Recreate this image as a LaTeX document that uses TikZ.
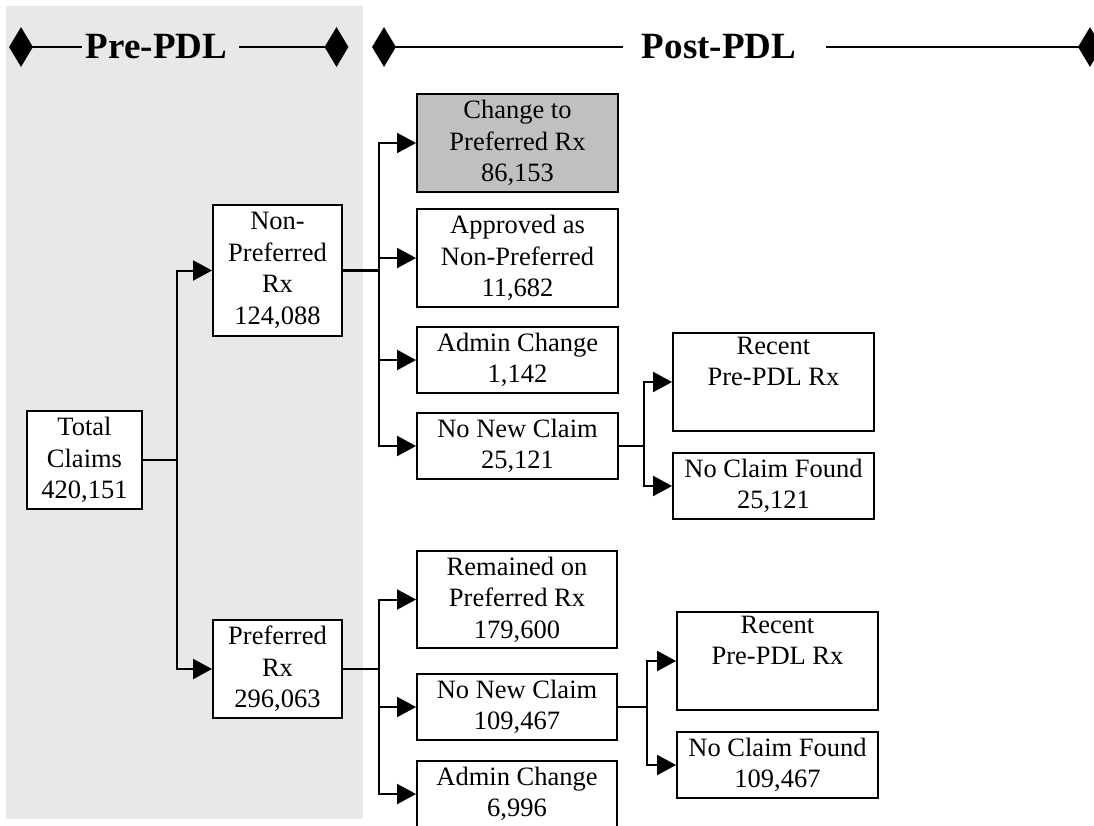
\documentclass[tikz,border=0pt]{standalone}
\usepackage{fontspec}
\setmainfont{Liberation Serif}
\usetikzlibrary{arrows.meta,shapes.geometric}
\definecolor{bgpre}{RGB}{232,232,232}
\definecolor{boxgray}{RGB}{192,192,192}
\tikzset{
  box/.style={draw=black, line width=1.9pt, fill=white, inner sep=0pt, align=center,
    font=\fontsize{26.5}{31.5}\selectfont},
  conn/.style={line width=2.3pt},
  arr/.style={line width=2pt, -{Triangle[length=19pt,width=20pt]}},
  dia/.style={diamond, fill=black, draw=none, inner sep=0pt, minimum width=24pt, minimum height=40pt},
  ttl/.style={font=\fontsize{37}{40}\selectfont\bfseries, inner sep=0pt},
  hdr/.style={line width=2.8pt}
}
\begin{document}
\begin{tikzpicture}[x=1pt,y=-1pt]
\useasboundingbox (0,0) rectangle (1094,825);
\clip (0,0) rectangle (1094,825);
\fill[bgpre] (6,6) rectangle (363,819);

% header
\node[dia] (d1) at (21,47) {};
\node[dia] (d2) at (336.5,47) {};
\node[dia] (d3) at (384,47) {};
\node[dia] (d4) at (1090,47) {};
\node[ttl] (pre) at (156.5,47) {Pre-PDL};
\node[ttl] (post) at (719,47) {Post-PDL};
\coordinate (p1) at (82,47);
\coordinate (p2) at (239,47);
\coordinate (q1) at (623,47);
\coordinate (q2) at (826,47);
\draw[hdr] (d1.center) -- (p1);
\draw[hdr] (p2) -- (d2.center);
\draw[hdr] (d3.center) -- (q1);
\draw[hdr] (q2) -- (d4.center);

% boxes
\node[box, minimum width=115pt, minimum height=98pt] (total) at (84.5,460) {Total\\Claims\\420,151};
\node[box, minimum width=129pt, minimum height=131pt] (nonpref) at (277.5,270.5) {Non-\\Preferred\\Rx\\124,088};
\node[box, minimum width=129pt, minimum height=98pt] (pref) at (277.5,669) {Preferred\\Rx\\296,063};

\node[box, fill=boxgray, minimum width=201pt, minimum height=98pt] (change) at (517.5,143) {Change to\\Preferred Rx\\86,153};
\node[box, minimum width=201pt, minimum height=98pt] (approved) at (517.5,258) {Approved as\\Non-Preferred\\11,682};
\node[box, minimum width=201pt, minimum height=66pt] (admin1) at (517.5,360) {Admin Change\\1,142};
\node[box, minimum width=201pt, minimum height=66pt] (nnc1) at (517.5,446) {No New Claim\\25,121};
\node[box, minimum width=201pt, minimum height=98pt] (recent1) at (773.5,382) {Recent\\Pre-PDL Rx\\\strut};
\node[box, minimum width=201pt, minimum height=66pt] (ncf1) at (773.5,486) {No Claim Found\\25,121};

\node[box, minimum width=200pt, minimum height=97pt] (remained) at (517,599.5) {Remained on\\Preferred Rx\\179,600};
\node[box, minimum width=200pt, minimum height=66pt] (nnc2) at (517,707) {No New Claim\\109,467};
\node[box, minimum width=200pt, minimum height=66pt] (admin2) at (517,794) {Admin Change\\6,996};
\node[box, minimum width=201pt, minimum height=98pt] (recent2) at (777.5,661) {Recent\\Pre-PDL Rx\\\strut};
\node[box, minimum width=201pt, minimum height=66pt] (ncf2) at (777.5,765) {No Claim Found\\109,467};

% junction columns
\coordinate (ja) at (177,0);
\coordinate (jb) at (379,0);
\coordinate (jc) at (644,0);
\coordinate (jd) at (647,0);

% total -> nonpref / pref
\draw[conn] (total.east) -- (total.east -| ja);
\draw[arr] (total.east -| ja) |- (nonpref.west);
\draw[arr] (total.east -| ja) |- (pref.west);

% nonpref -> branches
\draw[conn] (nonpref.east) -- (nonpref.east -| jb);
\draw[arr] (nonpref.east -| jb) |- (change.west);
\draw[arr] (nonpref.east -| jb) |- (approved.west);
\draw[arr] (nonpref.east -| jb) |- (admin1.west);
\draw[arr] (nonpref.east -| jb) |- (nnc1.west);

% nnc1 -> recent1 / ncf1
\draw[conn] (nnc1.east) -- (nnc1.east -| jc);
\draw[arr] (nnc1.east -| jc) |- (recent1.west);
\draw[arr] (nnc1.east -| jc) |- (ncf1.west);

% pref -> branches
\draw[conn] (pref.east) -- (pref.east -| jb);
\draw[arr] (pref.east -| jb) |- (remained.west);
\draw[arr] (pref.east -| jb) |- (nnc2.west);
\draw[arr] (pref.east -| jb) |- (admin2.west);

% nnc2 -> recent2 / ncf2
\draw[conn] (nnc2.east) -- (nnc2.east -| jd);
\draw[arr] (nnc2.east -| jd) |- (recent2.west);
\draw[arr] (nnc2.east -| jd) |- (ncf2.west);
\end{tikzpicture}
\end{document}
